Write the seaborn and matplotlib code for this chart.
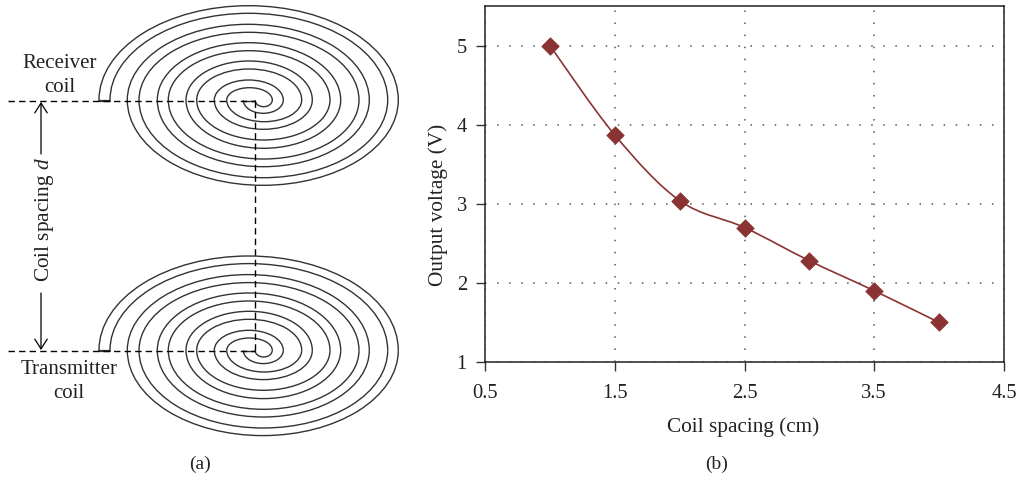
import numpy as np
import matplotlib
matplotlib.use('Agg')
import matplotlib.pyplot as plt
from matplotlib.patches import Arc, PathPatch
from matplotlib.path import Path
import seaborn as sns

# Chart data
coil_spacing = [1.0, 1.5, 2.0, 2.5, 3.0, 3.5, 4.0]
output_voltage = [5.0, 3.87, 3.04, 2.7, 2.28, 1.9, 1.5]
x_ticks = [0.5, 1.5, 2.5, 3.5, 4.5]
y_ticks = [1, 2, 3, 4, 5]

# Coil outline in pixels (crossings of the dashed line, arc heights)
outer_left = [99, 127.3, 157.3, 186, 214.3, 243.3]
outer_right = [398.3, 369.3, 340.7, 312.3, 283.3]
outer_top = [94.3, 75.7, 57.3, 39, 20]
outer_bottom = [85.3, 66.7, 48.3, 29.3, 13.3]
inner_left = [110, 139, 168.3, 196.7, 226.7, 255]
inner_right = [387.7, 359, 330, 301.7, 272.3]
inner_top = [86.7, 67.7, 49.3, 31, 12.3]
inner_bottom = [77.7, 59, 40, 21.7, 6.7]
coil_centers = [100, 350.3]
guide_rows = [101, 351]

sns.set_style("ticks")
plt.rcParams['font.family'] = ['Liberation Serif', 'DejaVu Serif']
plt.rcParams['mathtext.fontset'] = 'custom'
plt.rcParams['mathtext.rm'] = 'Liberation Serif'
plt.rcParams['mathtext.it'] = 'Liberation Serif:italic'

text_color = '#222222'
wire_color = '#333333'
red = '#8B3333'
dash = (0, (4.6, 3))

fig = plt.figure(figsize=(10.21, 4.8), dpi=100)

# (a) drawing, the axes cover the whole figure in pixel units
ax_a = fig.add_axes([0, 0, 1, 1])
ax_a.set_xlim(0, 1021)
ax_a.set_ylim(480, 0)
ax_a.axis('off')


def draw_wire(y0, lefts, rights, tops, bottoms):
    for i in range(len(rights)):
        # y axis is inverted: 180-360 is the upper half on screen
        ax_a.add_patch(Arc(((lefts[i] + rights[i]) / 2, y0), rights[i] - lefts[i], 2 * tops[i],
                           theta1=180, theta2=360, color=wire_color, lw=1.0))
        ax_a.add_patch(Arc(((lefts[i + 1] + rights[i]) / 2, y0), rights[i] - lefts[i + 1], 2 * bottoms[i],
                           theta1=0, theta2=180, color=wire_color, lw=1.0))


for y0, row in zip(coil_centers, guide_rows):
    draw_wire(y0, outer_left, outer_right, outer_top, outer_bottom)
    draw_wire(y0, inner_left, inner_right, inner_top, inner_bottom)
    # wire ends
    ax_a.plot([outer_left[0], inner_left[0]], [row, row], color=wire_color, lw=1.6)
    ax_a.plot([outer_left[-1], inner_left[-1]], [row, row], color=wire_color, lw=1.0)
    # dashed guide
    ax_a.plot([8, 255], [row, row], color='black', lw=1.0, ls=dash)

ax_a.plot([255, 255], guide_rows, color='black', lw=1.0, ls=dash)

# spacing arrows
arrow_style = dict(arrowstyle='->,head_width=0.45,head_length=0.7', color='black', lw=0.9, shrinkA=0, shrinkB=0)
ax_a.annotate('', xy=(41, 102), xytext=(41, 154), arrowprops=arrow_style)
ax_a.annotate('', xy=(41, 350), xytext=(41, 293), arrowprops=arrow_style)

ax_a.text(44, 220, r'Coil spacing $\mathit{d}$', rotation=90, ha='center', va='center',
          fontsize=15.3, color=text_color)
ax_a.text(60, 64, 'Receiver', ha='center', va='center', fontsize=15, color=text_color)
ax_a.text(60, 87, 'coil', ha='center', va='center', fontsize=15, color=text_color)
ax_a.text(69, 370, 'Transmitter', ha='center', va='center', fontsize=15, color=text_color)
ax_a.text(69, 394, 'coil', ha='center', va='center', fontsize=15, color=text_color)
ax_a.text(200, 464, '(a)', ha='center', va='center', fontsize=14, color=text_color)
ax_a.text(717, 464, '(b)', ha='center', va='center', fontsize=14, color=text_color)
ax_a.text(743, 427, 'Coil spacing (cm)', ha='center', va='center', fontsize=15.3, color=text_color)
ax_a.text(438, 205, 'Output voltage (V)', rotation=90, ha='center', va='center', fontsize=15.3, color=text_color)

# (b) chart
ax = fig.add_axes([485 / 1021, 118 / 480, 519 / 1021, 356 / 480])
ax.set_facecolor('none')

# smooth curve through the points (cubic Bezier segments)
n = len(coil_spacing)
verts = [(coil_spacing[0], output_voltage[0])]
codes = [Path.MOVETO]
for i in range(n - 1):
    x_prev, y_prev = coil_spacing[max(i - 1, 0)], output_voltage[max(i - 1, 0)]
    x0, y0 = coil_spacing[i], output_voltage[i]
    x1, y1 = coil_spacing[i + 1], output_voltage[i + 1]
    x_next, y_next = coil_spacing[min(i + 2, n - 1)], output_voltage[min(i + 2, n - 1)]
    verts.append((x0 + (x1 - x_prev) / 6, y0 + (y1 - y_prev) / 6))
    verts.append((x1 - (x_next - x0) / 6, y1 - (y_next - y0) / 6))
    verts.append((x1, y1))
    codes += [Path.CURVE4, Path.CURVE4, Path.CURVE4]
ax.add_patch(PathPatch(Path(verts, codes), fill=False, edgecolor=red, lw=1.2, zorder=3))

sns.scatterplot(x=coil_spacing, y=output_voltage, marker='D', s=80, color=red, edgecolor=red,
                linewidth=0.5, zorder=4, ax=ax)

ax.set_xlim(0.5, 4.5)
ax.set_ylim(1, 5.5)
ax.set_xticks(x_ticks)
ax.set_xticklabels([str(v) for v in x_ticks])
ax.set_yticks(y_ticks)
ax.grid(True, color='#555555', lw=1.1, ls=(0, (1, 6.9)))
ax.set_axisbelow(True)
ax.tick_params(length=6.5, width=1.0, color='#333333', labelsize=14.8, labelcolor=text_color, pad=6.5)
ax.tick_params(axis='x', pad=9)
for spine in ax.spines.values():
    spine.set_visible(True)
    spine.set_color('#222222')
    spine.set_linewidth(1.1)

fig.savefig('out.png', dpi=100)
plt.close()
